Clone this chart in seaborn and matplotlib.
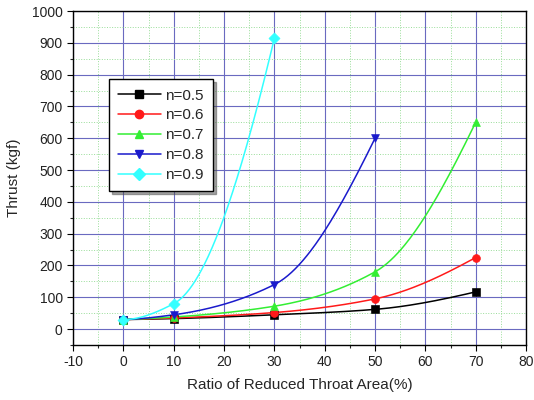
import numpy as np
import matplotlib
matplotlib.use("Agg")
import matplotlib.pyplot as plt
import seaborn as sns
from matplotlib.lines import Line2D
from matplotlib.ticker import MultipleLocator

# data
ratio_a = [0, 10, 30, 50, 70]
ratio_b = [0, 10, 30, 50]
ratio_c = [0, 10, 30]
thrust_05 = [30, 33, 45, 62, 117]
thrust_06 = [30, 35, 52, 95, 225]
thrust_07 = [30, 38, 72, 180, 650]
thrust_08 = [30, 45, 140, 600]
thrust_09 = [30, 80, 915]
labels = ["n=0.5", "n=0.6", "n=0.7", "n=0.8", "n=0.9"]

series = [
    (ratio_a, thrust_05, "#000000", "s"),
    (ratio_a, thrust_06, "#ff1a1a", "o"),
    (ratio_a, thrust_07, "#33ee33", "^"),
    (ratio_b, thrust_08, "#1a1acc", "v"),
    (ratio_c, thrust_09, "#33ffff", "D"),
]


def pchip(x, y, n=200):
    # monotone cubic curve through the points (smooth drawing like the original)
    x = np.asarray(x, float)
    y = np.asarray(y, float)
    h = np.diff(x)
    delta = np.diff(y) / h
    d = np.zeros_like(y)
    for k in range(1, len(x) - 1):
        if delta[k - 1] * delta[k] > 0:
            w1 = 2 * h[k] + h[k - 1]
            w2 = h[k] + 2 * h[k - 1]
            d[k] = (w1 + w2) / (w1 / delta[k - 1] + w2 / delta[k])
    if len(x) > 2:
        d0 = ((2 * h[0] + h[1]) * delta[0] - h[0] * delta[1]) / (h[0] + h[1])
        d[0] = d0 if d0 * delta[0] > 0 else 0
        dn = ((2 * h[-1] + h[-2]) * delta[-1] - h[-1] * delta[-2]) / (h[-1] + h[-2])
        d[-1] = dn if dn * delta[-1] > 0 else 0
    else:
        d[:] = delta[0]
    xs = np.linspace(x[0], x[-1], n)
    idx = np.clip(np.searchsorted(x, xs) - 1, 0, len(x) - 2)
    t = (xs - x[idx]) / h[idx]
    h00 = 2 * t**3 - 3 * t**2 + 1
    h10 = t**3 - 2 * t**2 + t
    h01 = -2 * t**3 + 3 * t**2
    h11 = t**3 - t**2
    ys = h00 * y[idx] + h10 * h[idx] * d[idx] + h01 * y[idx + 1] + h11 * h[idx] * d[idx + 1]
    return xs, ys


sns.set_style("white")
plt.rcParams["font.family"] = ["Liberation Sans", "DejaVu Sans"]
plt.rcParams["axes.unicode_minus"] = False

fig = plt.figure(figsize=(5.34, 4.0), dpi=100)
ax = fig.add_axes([0.137, 0.1375, 0.848, 0.835])

handles = []
for (xv, yv, col, mk), lab in zip(series, labels):
    xs, ys = pchip(xv, yv)
    sns.lineplot(x=xs, y=ys, color=col, lw=1.1, ax=ax, zorder=3)
    sns.scatterplot(x=xv, y=yv, color=col, marker=mk, s=32, edgecolor=col, ax=ax, zorder=4)
    handles.append(Line2D([], [], color=col, marker=mk, markersize=6, lw=1.1, label=lab))

ax.set_xlim(-10, 80)
ax.set_ylim(-50, 1000)
ax.xaxis.set_major_locator(MultipleLocator(10))
ax.xaxis.set_minor_locator(MultipleLocator(5))
ax.yaxis.set_major_locator(MultipleLocator(100))
ax.yaxis.set_minor_locator(MultipleLocator(50))
ax.grid(True, which="major", color="#6a6ac0", lw=0.8)
ax.grid(True, which="minor", color="#99dd99", lw=0.7, ls=":")
ax.set_axisbelow(True)
for sp in ax.spines.values():
    sp.set_color("black")
    sp.set_linewidth(1.0)
ax.tick_params(which="major", direction="out", length=4, width=0.8, labelsize=10, colors="black")
ax.tick_params(which="minor", direction="out", length=2, width=0.8)
ax.tick_params(axis="x", which="both", bottom=True)
ax.tick_params(axis="y", which="both", left=True)
for t in ax.get_xticklabels() + ax.get_yticklabels():
    t.set_color("#222222")

ax.set_xlabel("Ratio of Reduced Throat Area(%)", fontsize=11, labelpad=6)
ax.set_ylabel("Thrust (kgf)", fontsize=11, labelpad=8)

leg = ax.legend(handles=handles, loc="upper left", bbox_to_anchor=(0.079, 0.795),
                frameon=True, fancybox=False, shadow=True, fontsize=11,
                handlelength=2.8, handletextpad=0.3, labelspacing=0.38,
                borderpad=0.6, borderaxespad=0)
leg.get_frame().set_edgecolor("black")
leg.get_frame().set_linewidth(1.0)

fig.savefig("out.png", dpi=100)
